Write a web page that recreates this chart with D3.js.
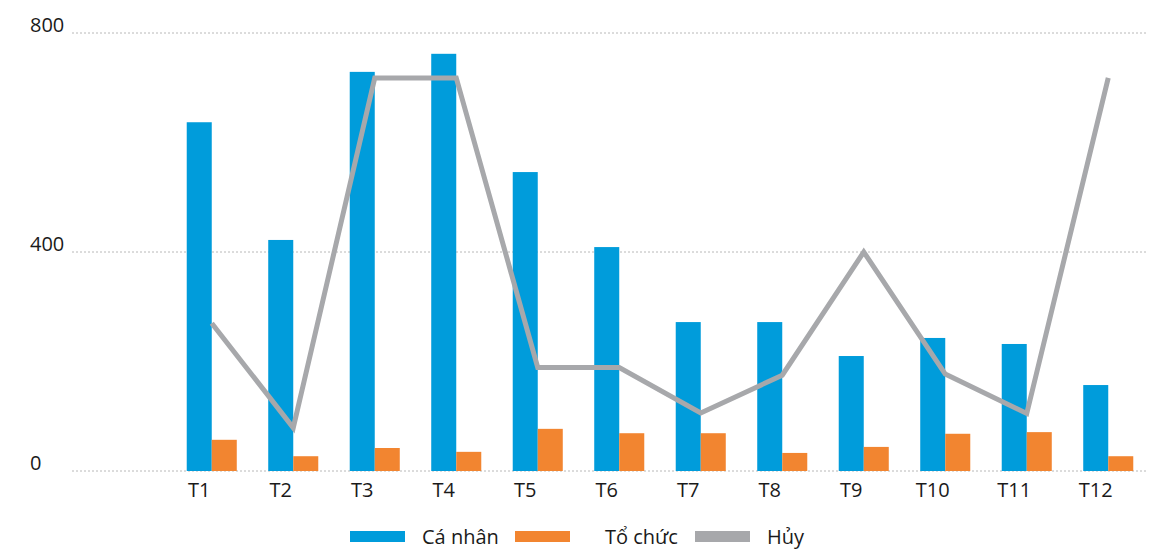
<!DOCTYPE html>
<html>
<head>
<meta charset="utf-8">
<script src="https://cdn.jsdelivr.net/npm/d3@7"></script>
<style>
    body { margin: 0; background: #fff; }
    text { font-family: "Open Sans", "Noto Sans", sans-serif; fill: #1a1a1a; }
</style>
</head>
<body>
<script>
(function() {

    var months = ["T1", "T2", "T3", "T4", "T5", "T6", "T7", "T8", "T9", "T10", "T11", "T12"];
    var caNhan = [637, 422, 729, 762, 546, 409, 272, 272, 210, 243, 232, 157];
    var toChuc = [57, 27, 42, 35, 77, 69, 69, 33, 44, 68, 71, 27];
    var huy = [270, 79, 718, 718, 189, 189, 106, 175, 400, 177, 105, 718];
    var yTicks = [0, 400, 800];
    var seriesNames = ["Cá nhân", "Tổ chức", "Hủy"];
    var colors = ["#009cdb", "#f28530", "#a7a8ab"];

    var width = 1161,
        height = 550;

    var svg = d3.select("body")
        .append("svg")
        .attr("width", width)
        .attr("height", height);

    var yScale = d3.scaleLinear()
        .domain([0, 800])
        .range([471, 33]);

    var xScale = d3.scaleBand()
        .domain(months)
        .range([171, 1149])
        .paddingInner(0.386)
        .paddingOuter(0.193);

    var xSub = d3.scaleBand()
        .domain([0, 1])
        .range([0, xScale.bandwidth()]);

    // grid lines
    svg.selectAll(".grid")
        .data(yTicks)
        .enter()
        .append("line")
        .attr("class", "grid")
        .attr("x1", 72)
        .attr("x2", 1148)
        .attr("y1", function(d){ return yScale(d); })
        .attr("y2", function(d){ return yScale(d); })
        .attr("stroke", "#b8b8b8")
        .attr("stroke-width", 1)
        .attr("stroke-dasharray", "2,2");

    svg.selectAll(".ylabel")
        .data(yTicks)
        .enter()
        .append("text")
        .attr("class", "ylabel")
        .attr("x", 30)
        .attr("y", function(d){ return yScale(d) - 1; })
        .style("font-size", "20px")
        .text(function(d){ return d; });

    // bars
    var groups = svg.selectAll(".group")
        .data(months)
        .enter()
        .append("g")
        .attr("class", "group")
        .attr("transform", function(d){ return "translate(" + xScale(d) + ",0)"; });

    groups.append("rect")
        .attr("x", xSub(0))
        .attr("width", xSub.bandwidth())
        .attr("y", function(d, i){ return yScale(caNhan[i]); })
        .attr("height", function(d, i){ return yScale(0) - yScale(caNhan[i]); })
        .attr("fill", colors[0]);

    groups.append("rect")
        .attr("x", xSub(1))
        .attr("width", xSub.bandwidth())
        .attr("y", function(d, i){ return yScale(toChuc[i]); })
        .attr("height", function(d, i){ return yScale(0) - yScale(toChuc[i]); })
        .attr("fill", colors[1]);

    groups.append("text")
        .attr("x", xSub(0) + xSub.bandwidth() / 2)
        .attr("y", 497)
        .attr("text-anchor", "middle")
        .style("font-size", "20px")
        .text(function(d){ return d; });

    // line
    var line = d3.line()
        .x(function(d, i){ return xScale(months[i]) + xScale.bandwidth() / 2; })
        .y(function(d){ return yScale(d); });

    svg.append("path")
        .datum(huy)
        .attr("d", line)
        .attr("fill", "none")
        .attr("stroke", colors[2])
        .attr("stroke-width", 5);

    // legend
    var legendX = [350, 515, 695];
    var legend = svg.selectAll(".legend")
        .data(seriesNames)
        .enter()
        .append("g")
        .attr("class", "legend")
        .attr("transform", function(d, i){ return "translate(" + legendX[i] + ",531)"; });

    legend.append("rect")
        .attr("width", 55)
        .attr("height", 11)
        .attr("fill", function(d, i){ return colors[i]; });

    legend.append("text")
        .attr("x", function(d, i){ return i == 1 ? 90 : 72; })
        .attr("y", 13)
        .style("font-size", "20px")
        .text(function(d){ return d; });

})();
</script>
</body>
</html>
